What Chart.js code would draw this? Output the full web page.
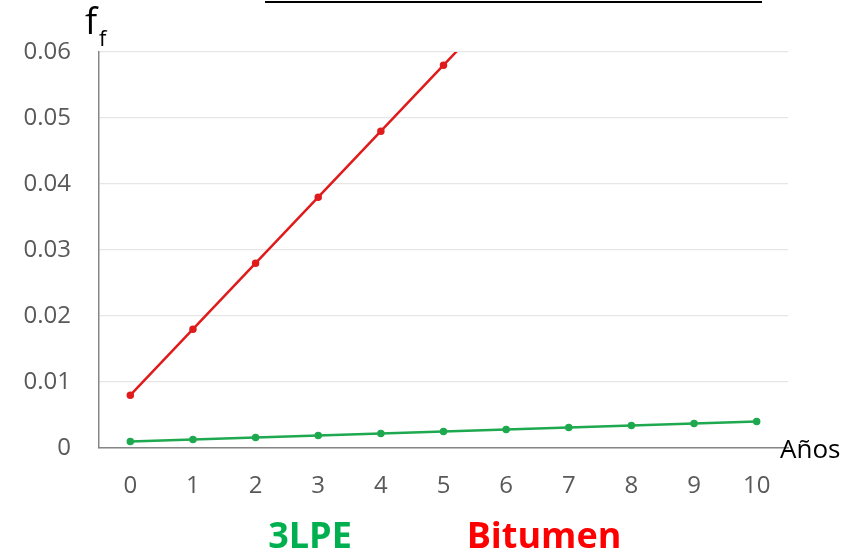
<!DOCTYPE html>
<html lang="es">
<head>
  <meta charset="UTF-8">
  <title>f_f vs Años</title>
  <script src="https://cdn.jsdelivr.net/npm/chart.js"></script>
  <style>
    html, body { margin: 0; background: #fff; }
    #wrap { width: 846px; height: 553px; position: relative; }
  </style>
</head>
<body>
  <div id="wrap"><canvas id="c"></canvas></div>
  <script>
    const years = ['0','1','2','3','4','5','6','7','8','9','10'];
    const lpe3 = [0.001,0.0013,0.0016,0.0019,0.0022,0.0025,0.0028,0.0031,0.0034,0.0037,0.004];
    // la última queda fuera del eje (se recorta arriba)
    const bitumen = [0.008,0.018,0.028,0.038,0.048,0.058,0.068,null,null,null,null];
    const yTicks = [0,0.01,0.02,0.03,0.04,0.05,0.06];

    const FONT = '"Open Sans", Arial, sans-serif';

    const extras = {
      id: 'extras',
      afterDraw(chart) {
        const c = chart.ctx;
        const a = chart.chartArea;
        c.save();
        // linea negra arriba
        c.strokeStyle = '#000';
        c.lineWidth = 2;
        c.beginPath(); c.moveTo(265, 2); c.lineTo(762, 2); c.stroke();
        // f_f
        c.fillStyle = '#000';
        c.textBaseline = 'alphabetic';
        c.textAlign = 'left';
        c.font = '36px ' + FONT;
        c.fillText('f', 85, 34);
        c.font = '22px ' + FONT;
        c.fillText('f', 99, 46);
        // Años
        c.font = '26px ' + FONT;
        c.fillText('Años', 780, a.bottom + 10);
        // leyenda
        c.font = 'bold 36px ' + FONT;
        c.textAlign = 'center';
        c.fillStyle = '#00B050';
        c.fillText('3LPE', 310, 548);
        c.fillStyle = '#FF0000';
        c.fillText('Bitumen', 544, 548);
        c.restore();
      }
    };

    new Chart(document.getElementById('c'), {
      type: 'line',
      data: {
        labels: years,
        datasets: [
          { label: '3LPE', data: lpe3, borderColor: '#1EA84F', backgroundColor: '#1EA84F',
            borderWidth: 2.5, pointRadius: 2.5, pointHoverRadius: 2.5, tension: 0 },
          { label: 'Bitumen', data: bitumen, borderColor: '#E01B1B', backgroundColor: '#E01B1B',
            borderWidth: 2.5, pointRadius: 2.5, pointHoverRadius: 2.5, tension: 0 }
        ]
      },
      plugins: [extras],
      options: {
        responsive: true,
        maintainAspectRatio: false,
        animation: false,
        layout: { padding: { left: 0, right: 58, top: 52, bottom: 0 } },
        plugins: { legend: { display: false }, tooltip: { enabled: false } },
        scales: {
          x: {
            offset: true,
            grid: { display: false, drawTicks: false },
            border: { color: '#868686', width: 1.5 },
            ticks: { color: '#595959', font: { family: FONT, size: 24 }, padding: 24, maxRotation: 0 },
            afterFit(s) { s.height = 105; }
          },
          y: {
            min: 0, max: 0.06,
            afterBuildTicks(s) { s.ticks = yTicks.map(v => ({ value: v })); },
            grid: { color: '#E6E6E6', lineWidth: 1.2, drawTicks: false },
            border: { color: '#868686', width: 1.5 },
            ticks: {
              color: '#595959', font: { family: FONT, size: 24 }, padding: 28,
              callback: v => v === 0 ? '0' : v.toFixed(2)
            },
            afterFit(s) { s.width = 99; }
          }
        }
      }
    });
  </script>
</body>
</html>
